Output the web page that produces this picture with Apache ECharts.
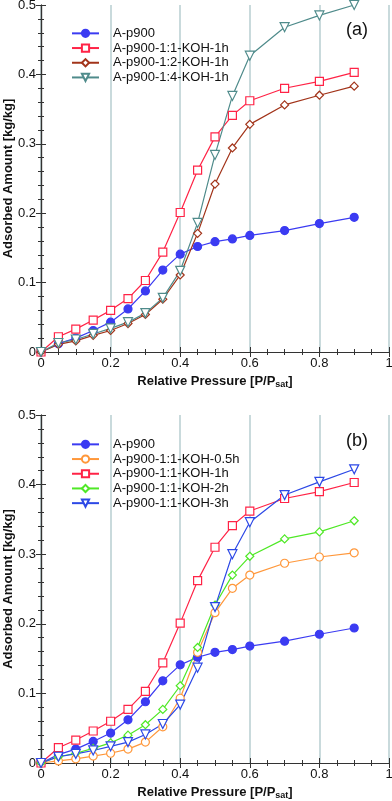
<!DOCTYPE html>
<html>
<head>
<meta charset="utf-8">
<script src="https://cdn.jsdelivr.net/npm/echarts@6/dist/echarts.min.js"></script>
<style>
  html, body { margin: 0; padding: 0; background: #fff; }
  #chart { width: 392px; height: 801px; }
</style>
</head>
<body>
<div id="chart"></div>
<script>
"use strict";

//
// Data
//
const pressure = [0, 0.05, 0.1, 0.15, 0.2, 0.25, 0.3, 0.35, 0.4, 0.45, 0.5, 0.55, 0.6, 0.7, 0.8, 0.9];

const ap900 = [0, 0.012, 0.020, 0.031, 0.043, 0.062, 0.088, 0.118, 0.141, 0.152, 0.159, 0.163, 0.168, 0.175, 0.185, 0.194];
const koh11_1h = [0, 0.022, 0.033, 0.046, 0.060, 0.077, 0.103, 0.144, 0.201, 0.262, 0.310, 0.341, 0.362, 0.380, 0.390, 0.403];
const koh12_1h = [0, 0.011, 0.016, 0.024, 0.031, 0.041, 0.054, 0.076, 0.111, 0.171, 0.242, 0.294, 0.328, 0.356, 0.370, 0.383];
const koh14_1h = [0, 0.013, 0.018, 0.026, 0.034, 0.043, 0.056, 0.078, 0.117, 0.186, 0.284, 0.369, 0.427, 0.468, 0.485, 0.500];
const koh11_05h = [0, 0.003, 0.006, 0.010, 0.014, 0.020, 0.030, 0.052, 0.093, 0.159, 0.216, 0.251, 0.270, 0.287, 0.296, 0.302];
const koh11_2h = [0, 0.009, 0.014, 0.021, 0.029, 0.040, 0.055, 0.077, 0.111, 0.166, 0.227, 0.270, 0.297, 0.322, 0.332, 0.348];
const koh11_3h = [0, 0.009, 0.013, 0.018, 0.024, 0.030, 0.041, 0.056, 0.084, 0.137, 0.224, 0.300, 0.346, 0.385, 0.404, 0.422];

const names_a = ["A-p900", "A-p900-1:1-KOH-1h", "A-p900-1:2-KOH-1h", "A-p900-1:4-KOH-1h"];
const names_b = ["A-p900", "A-p900-1:1-KOH-0.5h", "A-p900-1:1-KOH-1h", "A-p900-1:1-KOH-2h", "A-p900-1:1-KOH-3h"];

//
// Styles
//
const FONT = "Liberation Sans, Arial, sans-serif";
const c_blue = "#3b3bf2";
const c_red = "#ff2346";
const c_brown = "#a2341a";
const c_teal = "#4f8b8b";
const c_orange = "#ff973a";
const c_green = "#4fe826";
const c_blue3 = "#2c48e6";

function to_pairs(ys) {
  return pressure.map((x, i) => [x, ys[i]]);
}

function make_series(name, ys, color, symbol, filled, grid_i) {
  return {
    type: "line",
    name: name,
    xAxisIndex: grid_i * 2,
    yAxisIndex: grid_i * 2,
    data: to_pairs(ys),
    symbol: symbol,
    symbolSize: symbol === "triangle" ? 9 : 8,
    symbolRotate: symbol === "triangle" ? 180 : 0,
    clip: false,
    animation: false,
    lineStyle: { color: color, width: 1.2 },
    itemStyle: {
      color: filled ? color : "#fff",
      borderColor: color,
      borderWidth: 1.2,
    },
  };
}

//
// Axes
//
function x_axes(grid_i) {
  const base = {
    type: "value",
    gridIndex: grid_i,
    min: 0,
    max: 1,
    interval: 0.2,
    axisLine: { show: true, lineStyle: { color: "#333", width: 1.2 } },
    axisTick: { show: true, inside: true, length: 5, lineStyle: { color: "#333" } },
    minorTick: { show: true, splitNumber: 4, length: 3, lineStyle: { color: "#333" } },
  };
  return [
    Object.assign({}, base, {
      position: "bottom",
      axisLabel: { fontFamily: FONT, fontSize: 13, color: "#111", margin: 5 },
      splitLine: { show: true, lineStyle: { color: "#b7ced0", width: 1.5 } },
      name: "Relative Pressure [P/P{sub|sat}]",
      nameLocation: "middle",
      nameGap: 22,
      nameMoveOverlap: false,
      nameTextStyle: {
        fontFamily: FONT,
        fontSize: 13,
        fontWeight: "bold",
        color: "#111",
        verticalAlign: "top",
        rich: {
          sub: { fontFamily: FONT, fontSize: 9, fontWeight: "bold", color: "#111", verticalAlign: "bottom", padding: [6, 0, 0, 0] },
        },
      },
    }),
    Object.assign({}, base, {
      position: "top",
      axisLabel: { show: false },
      splitLine: { show: false },
    }),
  ];
}

function y_axes(grid_i) {
  const base = {
    type: "value",
    gridIndex: grid_i,
    min: 0,
    max: 0.5,
    interval: 0.1,
    axisLine: { show: true, lineStyle: { color: "#333", width: 1.2 } },
    axisTick: { show: true, inside: true, length: 5, lineStyle: { color: "#333" } },
    minorTick: { show: true, splitNumber: 5, length: 3, lineStyle: { color: "#333" } },
    splitLine: { show: false },
  };
  return [
    Object.assign({}, base, {
      position: "left",
      axisLabel: { fontFamily: FONT, fontSize: 13, color: "#111", margin: 5 },
      name: "Adsorbed Amount [kg/kg]",
      nameLocation: "middle",
      nameGap: 26,
      nameMoveOverlap: false,
      nameTextStyle: { fontFamily: FONT, fontSize: 13, fontWeight: "bold", color: "#111" },
    }),
    Object.assign({}, base, {
      position: "right",
      axisLabel: { show: false },
    }),
  ];
}

function legend_at(top, names) {
  return {
    data: names,
    orient: "vertical",
    left: 71,
    top: top,
    padding: 0,
    itemWidth: 27,
    itemHeight: 9,
    itemGap: 0,
    textStyle: { fontFamily: FONT, fontSize: 13, lineHeight: 14.7, color: "#111", padding: [0, 0, 0, 9] },
  };
}

//
// Chart
//
const chart = echarts.init(document.getElementById("chart"), null, { renderer: "canvas" });

chart.setOption({
  backgroundColor: "#fff",
  animation: false,
  grid: [
    { left: 41, width: 348, top: 5, height: 347, containLabel: false, outerBoundsMode: "none" },
    { left: 41, width: 348, top: 415, height: 348, containLabel: false, outerBoundsMode: "none" },
  ],
  xAxis: [...x_axes(0), ...x_axes(1)],
  yAxis: [...y_axes(0), ...y_axes(1)],
  legend: [legend_at(26, names_a), legend_at(437, names_b)],
  graphic: [
    { type: "text", left: 346, top: 21, style: { text: "(a)", font: "18px " + FONT, fill: "#111" } },
    { type: "text", left: 346, top: 432, style: { text: "(b)", font: "18px " + FONT, fill: "#111" } },
  ],
  series: [
    make_series("A-p900", ap900, c_blue, "circle", true, 0),
    make_series("A-p900-1:1-KOH-1h", koh11_1h, c_red, "rect", false, 0),
    make_series("A-p900-1:2-KOH-1h", koh12_1h, c_brown, "diamond", false, 0),
    make_series("A-p900-1:4-KOH-1h", koh14_1h, c_teal, "triangle", false, 0),

    make_series("A-p900", ap900, c_blue, "circle", true, 1),
    make_series("A-p900-1:1-KOH-0.5h", koh11_05h, c_orange, "circle", false, 1),
    make_series("A-p900-1:1-KOH-1h", koh11_1h, c_red, "rect", false, 1),
    make_series("A-p900-1:1-KOH-2h", koh11_2h, c_green, "diamond", false, 1),
    make_series("A-p900-1:1-KOH-3h", koh11_3h, c_blue3, "triangle", false, 1),
  ],
});
</script>
</body>
</html>
